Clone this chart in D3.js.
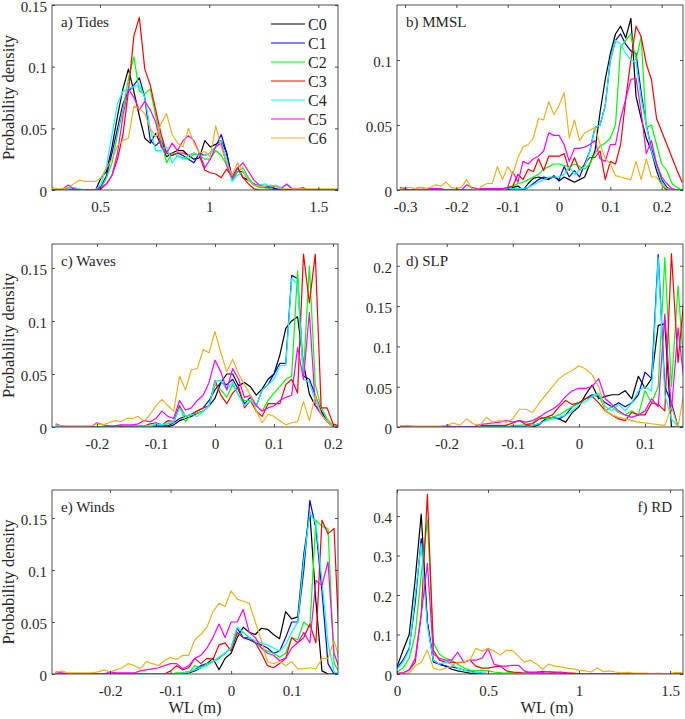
<!DOCTYPE html>
<html><head><meta charset="utf-8">
<script src="https://cdn.jsdelivr.net/npm/d3@7"></script>
<style>
body{margin:0;background:#fff}
svg{display:block}
text{font-family:"Liberation Serif","Times New Roman",serif;fill:#262626}
</style>
</head><body>
<svg id="chart" width="685" height="719"></svg>
<script>
// ---------- DATA ----------
const seriesNames = ['C0','C1','C2','C3','C4','C5','C6'];

// a) Tides
const tidesWL = [0.28,0.305,0.33,0.355,0.38,0.405,0.43,0.455,0.48,0.505,0.53,0.555,0.58,0.605,0.63,0.655,0.68,0.705,0.73,0.755,0.78,0.805,0.83,0.855,0.88,0.905,0.93,0.955,0.98,1.005,1.03,1.055,1.08,1.105,1.13,1.155,1.18,1.205,1.23,1.255,1.28,1.305,1.33,1.355,1.38,1.405,1.43,1.455,1.48,1.505,1.53,1.555,1.58,1.605];
const tidesC0 = [0,0,0,0,0,0,0,0,0,0.01,0.015,0.035,0.06,0.082,0.098,0.08,0.06,0.042,0.038,0.046,0.036,0.027,0.03,0.032,0.032,0.028,0.025,0.026,0.04,0.035,0.037,0.04,0.03,0.01,0.018,0.01,0.008,0.005,0.003,0.003,0.002,0.001,0,0,0,0,0,0,0,0,0,0,0,0];
const tidesC1 = [0,0,0,0,0,0,0,0,0,0.003,0.012,0.03,0.05,0.07,0.08,0.085,0.091,0.075,0.04,0.036,0.04,0.03,0.028,0.03,0.028,0.025,0.022,0.03,0.028,0.03,0.035,0.045,0.03,0.008,0.015,0.015,0.008,0.004,0.003,0.002,0.003,0.001,0,0,0,0,0,0,0,0,0,0,0,0];
const tidesC2 = [0,0,0,0,0,0,0,0,0,0.002,0.01,0.022,0.045,0.065,0.09,0.108,0.08,0.078,0.082,0.06,0.04,0.022,0.03,0.028,0.026,0.025,0.029,0.028,0.025,0.025,0.032,0.028,0.02,0.008,0.015,0.018,0.01,0.004,0.002,0.002,0.001,0,0,0,0,0,0,0,0,0,0,0,0,0];
const tidesC3 = [0,0,0,0.002,0.001,0,0,0,0,0.001,0.005,0.012,0.025,0.045,0.08,0.125,0.14,0.098,0.085,0.065,0.045,0.03,0.028,0.03,0.03,0.028,0.03,0.028,0.016,0.014,0.013,0.01,0.017,0.01,0.018,0.01,0.005,0.001,0,0,0,0,0,0,0,0,0,0,0,0,0,0,0,0];
const tidesC4 = [0,0,0,0.001,0.002,0.001,0,0,0,0.005,0.02,0.045,0.07,0.08,0.082,0.084,0.085,0.075,0.05,0.032,0.032,0.035,0.022,0.028,0.025,0.028,0.03,0.028,0.028,0.03,0.035,0.04,0.025,0.007,0.012,0.015,0.008,0.004,0.004,0.005,0.003,0.004,0.002,0.004,0.001,0,0,0,0,0,0,0,0,0];
const tidesC5 = [0,0,0.001,0.004,0.001,0,0,0,0,0.002,0.005,0.012,0.03,0.06,0.082,0.075,0.065,0.072,0.065,0.055,0.035,0.03,0.038,0.032,0.04,0.044,0.04,0.03,0.018,0.025,0.035,0.038,0.02,0.01,0.018,0.022,0.015,0.008,0.004,0.002,0.002,0.003,0.001,0.005,0.001,0.001,0.002,0,0,0,0,0,0,0];
const tidesC6 = [0.002,0.001,0.001,0.002,0.005,0.008,0.007,0.007,0.007,0.01,0.018,0.025,0.036,0.04,0.042,0.068,0.066,0.062,0.05,0.043,0.054,0.062,0.045,0.038,0.035,0.05,0.038,0.03,0.031,0.027,0.052,0.035,0.022,0.012,0.022,0.015,0.008,0.004,0.003,0.003,0.004,0.003,0.001,0.001,0.001,0.001,0.001,0.001,0.001,0.001,0.001,0.001,0.001,0.001];
const tidesXTicks = [0.5, 1, 1.5];
const tidesYTicks = [0, 0.05, 0.1, 0.15];

// b) MMSL
const mmslWL = [-0.31,-0.3,-0.29,-0.28,-0.27,-0.26,-0.25,-0.24,-0.23,-0.22,-0.21,-0.2,-0.19,-0.18,-0.17,-0.16,-0.15,-0.14,-0.13,-0.12,-0.11,-0.1,-0.09,-0.08,-0.07,-0.06,-0.05,-0.04,-0.03,-0.02,-0.01,0,0.01,0.02,0.03,0.04,0.05,0.06,0.07,0.08,0.09,0.1,0.11,0.12,0.13,0.14,0.15,0.16,0.17,0.18,0.19,0.2,0.21,0.22,0.23,0.24];
const mmslC0 = [0,0,0,0,0,0,0,0,0,0,0,0,0,0,0,0,0,0,0,0,0,0,0.002,0.003,0,0.005,0.009,0.01,0.009,0.008,0.011,0.007,0.01,0.008,0.006,0.008,0.01,0.02,0.03,0.06,0.085,0.105,0.12,0.126,0.117,0.132,0.072,0.055,0.04,0.03,0.015,0.004,0,0,0,0];
const mmslC1 = [0,0,0,0,0,0,0,0,0,0,0,0,0,0,0,0,0,0,0,0,0,0,0,0,0,0.002,0.005,0.008,0.01,0.009,0.01,0.008,0.018,0.01,0.015,0.01,0.02,0.03,0.048,0.05,0.065,0.1,0.115,0.12,0.112,0.107,0.105,0.075,0.05,0.032,0.02,0.008,0.002,0,0,0];
const mmslC2 = [0,0,0,0,0,0,0,0,0,0,0,0,0,0,0,0,0,0,0,0,0,0.001,0.003,0.005,0.006,0.008,0.01,0.012,0.016,0.018,0.02,0.02,0.019,0.018,0.02,0.018,0.016,0.02,0.028,0.034,0.036,0.04,0.05,0.11,0.115,0.12,0.1,0.118,0.048,0.05,0.035,0.02,0.015,0.005,0.002,0];
const mmslC3 = [0,0,0,0,0,0,0,0,0,0,0,0,0,0,0,0,0,0,0,0,0,0.002,0.003,0.012,0.008,0.016,0.014,0.024,0.015,0.026,0.026,0.026,0.028,0.015,0.025,0.015,0.02,0.025,0.025,0.03,0.008,0.022,0.02,0.035,0.07,0.1,0.126,0.118,0.097,0.085,0.055,0.045,0.035,0.025,0.015,0.006];
const mmslC4 = [0,0,0,0,0,0,0,0,0,0,0,0,0,0,0,0,0,0,0,0,0,0.001,0.001,0.001,0.001,0.002,0.004,0.006,0.008,0.01,0.01,0.01,0.012,0.018,0.012,0.015,0.018,0.03,0.048,0.05,0.065,0.1,0.115,0.112,0.105,0.1,0.098,0.07,0.05,0.03,0.018,0.006,0.001,0,0,0];
const mmslC5 = [0.002,0.001,0,0.001,0.002,0.001,0.001,0.001,0.001,0,0,0,0,0.004,0.002,0.001,0.001,0.001,0.001,0.001,0.001,0.002,0.014,0.006,0.022,0.02,0.024,0.026,0.03,0.044,0.042,0.042,0.035,0.022,0.032,0.032,0.033,0.035,0.038,0.024,0.022,0.035,0.035,0.055,0.07,0.085,0.086,0.06,0.028,0.038,0.02,0.01,0.005,0.001,0,0];
const mmslC6 = [0.001,0.002,0.002,0.001,0.002,0.001,0.002,0.004,0.003,0.006,0.002,0.001,0.002,0.008,0.001,0,0.003,0.005,0.005,0.018,0.008,0.018,0.012,0.025,0.033,0.035,0.04,0.055,0.054,0.068,0.058,0.065,0.075,0.04,0.054,0.038,0.044,0.046,0.048,0.035,0.024,0.02,0.011,0.01,0.009,0.008,0.022,0.008,0.024,0.01,0.01,0.004,0.001,0,0,0];
const mmslXTicks = [-0.3, -0.2, -0.1, 0, 0.1, 0.2];
const mmslYTicks = [0, 0.05, 0.1];

// c) Waves
const wavesWL = [-0.27,-0.26,-0.25,-0.24,-0.23,-0.22,-0.21,-0.2,-0.19,-0.18,-0.17,-0.16,-0.15,-0.14,-0.13,-0.12,-0.11,-0.1,-0.09,-0.08,-0.07,-0.06,-0.05,-0.04,-0.03,-0.02,-0.01,0,0.01,0.02,0.03,0.04,0.05,0.06,0.07,0.08,0.09,0.1,0.11,0.12,0.13,0.14,0.15,0.16,0.17,0.18,0.19,0.2,0.21];
const wavesC0 = [0,0,0,0,0,0,0,0,0,0,0,0,0,0,0,0,0,0,0,0,0.002,0.006,0.008,0.01,0.013,0.015,0.02,0.027,0.042,0.05,0.05,0.039,0.042,0.038,0.03,0.036,0.045,0.05,0.068,0.093,0.1,0.104,0.06,0.031,0.02,0.015,0.005,0.001,0];
const wavesC1 = [0,0,0,0,0,0,0,0,0,0,0,0.001,0,0,0,0,0,0.001,0.001,0.001,0.004,0.008,0.01,0.012,0.015,0.018,0.025,0.035,0.042,0.04,0.045,0.035,0.022,0.028,0.02,0.035,0.04,0.05,0.06,0.06,0.143,0.14,0.048,0.045,0.03,0.015,0.005,0.001,0];
const wavesC2 = [0,0,0,0,0,0,0,0,0,0,0,0.001,0,0,0,0,0,0.002,0.002,0.003,0.004,0.02,0.005,0.012,0.013,0.015,0.02,0.04,0.035,0.028,0.04,0.03,0.025,0.025,0.02,0.015,0.025,0.032,0.038,0.045,0.048,0.147,0.05,0.152,0.04,0.018,0.008,0.001,0];
const wavesC3 = [0.002,0.001,0,0,0,0,0,0,0,0,0,0.001,0.001,0.001,0.001,0.001,0.003,0.004,0.002,0.006,0.005,0.02,0.01,0.012,0.015,0.018,0.02,0.044,0.03,0.022,0.032,0.038,0.018,0.025,0.015,0.01,0.022,0.022,0.022,0.04,0.045,0.032,0.163,0.117,0.163,0.018,0.018,0.003,0.001];
const wavesC4 = [0.001,0,0,0,0,0,0,0,0,0,0,0.002,0.001,0.001,0.001,0.001,0.001,0.003,0.002,0.004,0.005,0.018,0.01,0.012,0.01,0.015,0.02,0.043,0.044,0.035,0.042,0.03,0.02,0.025,0.02,0.035,0.04,0.045,0.058,0.058,0.14,0.135,0.045,0.042,0.025,0.012,0.005,0.001,0];
const wavesC5 = [0.003,0.001,0,0,0,0,0,0.004,0.002,0.001,0.001,0.002,0.002,0.002,0.003,0.006,0.005,0.008,0.015,0.01,0.008,0.025,0.016,0.018,0.025,0.03,0.042,0.063,0.052,0.035,0.055,0.045,0.028,0.03,0.02,0.015,0.018,0.02,0.025,0.028,0.03,0.075,0.045,0.108,0.02,0.012,0.005,0.001,0];
const wavesC6 = [0.002,0.001,0.001,0.001,0.001,0.001,0.001,0.003,0.002,0.004,0.006,0.005,0.008,0.008,0.01,0.005,0.012,0.02,0.026,0.02,0.015,0.048,0.035,0.054,0.055,0.073,0.07,0.09,0.07,0.052,0.064,0.05,0.04,0.03,0.015,0.004,0.012,0.01,0.006,0.002,0.004,0.005,0.024,0.006,0.03,0.012,0.005,0.001,0];
const wavesXTicks = [-0.2, -0.1, 0, 0.1, 0.2];
const wavesYTicks = [0, 0.05, 0.1, 0.15];

// d) SLP
const slpWL = [-0.27,-0.26,-0.25,-0.24,-0.23,-0.22,-0.21,-0.2,-0.19,-0.18,-0.17,-0.16,-0.15,-0.14,-0.13,-0.12,-0.11,-0.1,-0.09,-0.08,-0.07,-0.06,-0.05,-0.04,-0.03,-0.02,-0.01,0,0.01,0.02,0.03,0.04,0.05,0.06,0.07,0.08,0.09,0.1,0.11,0.12,0.13,0.14,0.15,0.16];
const slpC0 = [0,0,0,0,0,0,0,0,0,0,0,0,0,0,0,0,0,0,0,0,0,0.003,0.01,0.012,0.01,0.006,0.018,0.025,0.04,0.052,0.035,0.038,0.04,0.04,0.045,0.035,0.063,0.048,0.06,0.126,0.128,0,0,0];
const slpC1 = [0,0,0,0,0,0,0,0,0,0,0,0,0,0,0,0,0,0,0,0.001,0.002,0.004,0.01,0.012,0.01,0.015,0.025,0.03,0.035,0.04,0.038,0.03,0.025,0.03,0.025,0.03,0.04,0.068,0.06,0.214,0.05,0.03,0,0];
const slpC2 = [0,0,0,0,0,0,0,0,0,0,0,0,0,0,0,0,0,0.002,0.002,0.003,0.005,0.013,0.01,0.012,0.015,0.02,0.025,0.03,0.035,0.038,0.04,0.02,0.025,0.018,0.015,0.02,0.015,0.045,0.03,0.05,0.21,0.05,0.175,0.06];
const slpC3 = [0.001,0,0,0,0,0,0,0,0,0,0,0,0.002,0.002,0.002,0.002,0.002,0.005,0.008,0.003,0.004,0.01,0.012,0.015,0.025,0.033,0.028,0.03,0.035,0.038,0.03,0.02,0.015,0.01,0.008,0.018,0.015,0.015,0.03,0.028,0.02,0.215,0.08,0.17];
const slpC4 = [0.001,0,0,0,0,0,0,0,0,0,0,0,0,0,0,0,0,0,0,0,0.002,0.004,0.008,0.01,0.012,0.015,0.02,0.028,0.032,0.038,0.042,0.025,0.02,0.028,0.02,0.03,0.045,0.05,0.045,0.21,0.04,0.01,0,0];
const slpC5 = [0.001,0,0,0,0,0,0,0.002,0,0,0,0,0.003,0.004,0.005,0.006,0.008,0.006,0.008,0.006,0.008,0.012,0.018,0.022,0.028,0.038,0.045,0.048,0.048,0.05,0.06,0.035,0.028,0.02,0.015,0.012,0.015,0.02,0.035,0.025,0.14,0.02,0.123,0.05];
const slpC6 = [0.001,0.002,0.001,0.001,0.001,0.001,0.001,0.002,0.005,0.002,0.01,0.004,0.002,0.012,0.006,0.008,0.006,0.01,0.022,0.022,0.018,0.03,0.04,0.05,0.06,0.066,0.07,0.076,0.072,0.065,0.05,0.02,0.015,0.012,0.01,0.008,0.006,0.005,0.004,0.003,0.002,0.025,0,0.048];
const slpXTicks = [-0.2, -0.1, 0, 0.1];
const slpYTicks = [0, 0.05, 0.1, 0.15, 0.2];

// e) Winds
const windsWL = [-0.29,-0.28,-0.27,-0.26,-0.25,-0.24,-0.23,-0.22,-0.21,-0.2,-0.19,-0.18,-0.17,-0.16,-0.15,-0.14,-0.13,-0.12,-0.11,-0.1,-0.09,-0.08,-0.07,-0.06,-0.05,-0.04,-0.03,-0.02,-0.01,0,0.01,0.02,0.03,0.04,0.05,0.06,0.07,0.08,0.09,0.1,0.11,0.12,0.13,0.14,0.15,0.16,0.17,0.18];
const windsC0 = [0,0,0,0,0,0,0,0,0,0,0,0,0,0,0,0,0,0,0,0,0,0,0.001,0.003,0.006,0.01,0.015,0.004,0.015,0.02,0.035,0.045,0.04,0.038,0.044,0.043,0.038,0.034,0.06,0.053,0.055,0.115,0.155,0.07,0.003,0,0,0];
const windsC1 = [0,0,0,0,0,0,0,0,0,0,0,0,0,0,0,0,0,0,0,0,0,0.001,0.002,0.004,0.008,0.01,0.012,0.015,0.02,0.025,0.044,0.035,0.033,0.03,0.028,0.025,0.02,0.022,0.035,0.05,0.05,0.1,0.167,0.14,0.08,0.01,0,0];
const windsC2 = [0,0,0,0,0,0,0,0,0,0,0,0,0,0,0,0,0,0,0,0,0.001,0.001,0.001,0.008,0.006,0.01,0.012,0.016,0.02,0.025,0.038,0.04,0.035,0.03,0.025,0.022,0.02,0.016,0.02,0.035,0.033,0.05,0.045,0.148,0.142,0.14,0.01,0.001];
const windsC3 = [0.001,0,0,0,0,0,0,0,0,0,0,0,0,0,0,0,0,0,0,0.003,0.008,0.004,0.006,0.015,0.01,0.015,0.014,0.028,0.03,0.022,0.04,0.035,0.035,0.03,0.02,0.008,0.006,0.01,0.015,0.035,0.03,0.035,0.048,0.03,0.148,0.135,0.14,0.01];
const windsC4 = [0,0,0,0,0,0,0,0,0,0,0,0,0,0,0,0,0,0,0,0,0,0.001,0.002,0.004,0.006,0.008,0.012,0.015,0.02,0.025,0.045,0.04,0.035,0.032,0.03,0.028,0.025,0.022,0.028,0.04,0.05,0.11,0.155,0.145,0.09,0.03,0.002,0];
const windsC5 = [0.002,0.001,0,0,0,0,0,0,0,0.002,0.001,0.001,0.001,0.001,0.003,0.004,0.005,0.006,0.008,0.01,0.01,0.005,0.008,0.015,0.018,0.025,0.035,0.048,0.035,0.05,0.05,0.062,0.04,0.035,0.025,0.02,0.018,0.013,0.015,0.025,0.03,0.04,0.03,0.09,0.085,0.108,0.02,0.003];
const windsC6 = [0.001,0.003,0.001,0.001,0.001,0.001,0.001,0.002,0.004,0.002,0.004,0.006,0.01,0.008,0.005,0.012,0.01,0.008,0.013,0.016,0.014,0.018,0.018,0.033,0.038,0.045,0.06,0.068,0.065,0.08,0.072,0.07,0.068,0.05,0.032,0.012,0.01,0.012,0.008,0.012,0.005,0.005,0.006,0.005,0.015,0.015,0.032,0.012];
const windsXTicks = [-0.2, -0.1, 0, 0.1];
const windsYTicks = [0, 0.05, 0.1, 0.15];

// f) RD
const rdWL = [0,0.033,0.067,0.1,0.133,0.167,0.2,0.233,0.267,0.3,0.333,0.367,0.4,0.433,0.467,0.5,0.533,0.567,0.6,0.633,0.667,0.7,0.733,0.767,0.8,0.833,0.867,0.9,0.933,0.967,1,1.033,1.067,1.1,1.133,1.167,1.2,1.233,1.267,1.3,1.333,1.367,1.4,1.433,1.467,1.5,1.533,1.567];
const rdC0 = [0.018,0.06,0.1,0.24,0.405,0.13,0.035,0.025,0.02,0.012,0.008,0.005,0.002,0.001,0,0,0,0,0,0,0,0,0,0,0,0,0,0,0,0,0,0,0,0,0,0,0,0,0,0,0,0,0,0,0,0,0,0];
const rdC1 = [0.015,0.035,0.065,0.18,0.343,0.13,0.03,0.025,0.02,0.018,0.015,0.01,0.008,0.004,0.002,0.001,0.001,0.002,0,0,0,0,0,0,0,0,0,0,0,0,0,0,0,0,0,0,0,0,0,0,0,0,0,0,0,0,0,0];
const rdC2 = [0.005,0.015,0.04,0.1,0.25,0.39,0.08,0.05,0.04,0.035,0.025,0.015,0.01,0.008,0.01,0.008,0.005,0.003,0.002,0.005,0.002,0.001,0.001,0.001,0,0,0,0,0,0,0,0,0,0,0,0,0,0,0,0,0,0,0,0,0,0,0,0];
const rdC3 = [0.001,0.003,0.01,0.03,0.15,0.455,0.06,0.035,0.03,0.03,0.028,0.03,0.035,0.02,0.015,0.015,0.018,0.02,0.008,0.005,0.004,0.003,0.005,0.004,0.007,0.005,0.004,0.005,0.003,0.002,0.001,0,0,0,0,0,0,0,0,0,0,0,0,0,0,0,0,0];
const rdC4 = [0.012,0.03,0.06,0.2,0.33,0.12,0.035,0.025,0.03,0.025,0.015,0.01,0.006,0.004,0.002,0.001,0.001,0.001,0.001,0.001,0.001,0.002,0.001,0,0,0,0,0,0,0,0,0,0,0,0,0,0,0,0,0,0,0,0,0,0,0,0,0];
const rdC5 = [0.001,0.003,0.01,0.04,0.15,0.28,0.05,0.04,0.035,0.035,0.055,0.03,0.035,0.035,0.04,0.065,0.025,0.02,0.02,0.022,0.022,0.008,0.003,0.005,0.004,0.006,0.005,0.003,0.002,0.001,0,0,0,0,0,0,0,0,0,0,0,0,0,0,0,0,0,0];
const rdC6 = [0,0.001,0.003,0.02,0.03,0.06,0.015,0.01,0.015,0.02,0.03,0.03,0.035,0.065,0.058,0.065,0.058,0.048,0.06,0.06,0.045,0.03,0.035,0.025,0.012,0.025,0.02,0.018,0.015,0.013,0.01,0.008,0.005,0.015,0.006,0.008,0.005,0.003,0.004,0.002,0.002,0.002,0.001,0.002,0.001,0.001,0.004,0.003];
const rdXTicks = [0, 0.5, 1, 1.5];
const rdYTicks = [0, 0.1, 0.2, 0.3, 0.4];

// ---------- STYLE / LAYOUT ----------
const seriesColors = ['#000000','#0000ff','#00ff00','#ff0000','#00ffff','#ff00ff','#edb120'];
const axisColor = '#262626';

const panels = [
  {title:'a) Tides', wl:tidesWL, dens:[tidesC0,tidesC1,tidesC2,tidesC3,tidesC4,tidesC5,tidesC6], xDom:[0.28,1.59], yDom:[0,0.15], xt:tidesXTicks, yt:tidesYTicks, box:[52,338,5,190], tAnchor:'start', ylab:true, xlab:null, legend:true},
  {title:'b) MMSL', wl:mmslWL, dens:[mmslC0,mmslC1,mmslC2,mmslC3,mmslC4,mmslC5,mmslC6], xDom:[-0.3156,0.2415], yDom:[0,0.1423], xt:mmslXTicks, yt:mmslYTicks, box:[397,683,5,190], tAnchor:'start', ylab:false, xlab:null},
  {title:'c) Waves', wl:wavesWL, dens:[wavesC0,wavesC1,wavesC2,wavesC3,wavesC4,wavesC5,wavesC6], xDom:[-0.2762,0.2085], yDom:[0,0.1726], xt:wavesXTicks, yt:wavesYTicks, box:[52,338,244,427], tAnchor:'start', ylab:true, xlab:null},
  {title:'d) SLP', wl:slpWL, dens:[slpC0,slpC1,slpC2,slpC3,slpC4,slpC5,slpC6], xDom:[-0.2752,0.1575], yDom:[0,0.227], xt:slpXTicks, yt:slpYTicks, box:[397,683,244,427], tAnchor:'start', ylab:false, xlab:null},
  {title:'e) Winds', wl:windsWL, dens:[windsC0,windsC1,windsC2,windsC3,windsC4,windsC5,windsC6], xDom:[-0.2958,0.1765], yDom:[0,0.177], xt:windsXTicks, yt:windsYTicks, box:[52,338,490,674], tAnchor:'start', ylab:true, xlab:195},
  {title:'f) RD', wl:rdWL, dens:[rdC0,rdC1,rdC2,rdC3,rdC4,rdC5,rdC6], xDom:[0,1.571], yDom:[0,0.466], xt:rdXTicks, yt:rdYTicks, box:[397,683,490,674], tAnchor:'end', ylab:false, xlab:547}
];

const svg = d3.select('#chart');
const fmt = v => String(v);

panels.forEach((p, pi) => {
  const [l, r, t, b] = p.box;
  const x = d3.scaleLinear().domain(p.xDom).range([l, r]);
  const y = d3.scaleLinear().domain(p.yDom).range([b, t]);
  const g = svg.append('g');

  const clipId = 'clip' + pi;
  svg.append('clipPath').attr('id', clipId)
    .append('rect').attr('x', l).attr('y', t).attr('width', r - l).attr('height', b - t);

  // lines
  const lg = g.append('g').attr('clip-path', `url(#${clipId})`);
  const line = d3.line().x(d => x(d[0])).y(d => y(d[1]));
  p.dens.forEach((vals, si) => {
    const pts = p.wl.map((w, i) => [w, vals[i]]).filter(d => d[1] !== undefined);
    lg.append('path').datum(pts)
      .attr('d', line)
      .attr('fill', 'none')
      .attr('stroke', seriesColors[si])
      .attr('stroke-width', 1.2)
      .attr('stroke-linejoin', 'round');
  });

  // axes (inward ticks on all four sides)
  const styleAxis = sel => {
    sel.select('.domain').remove();
    sel.selectAll('line').attr('stroke', axisColor).attr('stroke-width', 0.8);
    sel.selectAll('text').attr('fill', axisColor).style('font-size', '15px')
      .style('font-family', '"Liberation Serif","Times New Roman",serif');
  };
  g.append('g').attr('transform', `translate(0,${b})`)
    .call(d3.axisBottom(x).tickValues(p.xt).tickFormat(fmt).tickSizeInner(-3).tickSizeOuter(0).tickPadding(11))
    .call(styleAxis);
  g.append('g').attr('transform', `translate(0,${t})`)
    .call(d3.axisTop(x).tickValues(p.xt).tickFormat('').tickSizeInner(-3).tickSizeOuter(0))
    .call(styleAxis);
  g.append('g').attr('transform', `translate(${l},0)`)
    .call(d3.axisLeft(y).tickValues(p.yt).tickFormat(fmt).tickSizeInner(-3).tickSizeOuter(0).tickPadding(5))
    .call(styleAxis)
    .call(sel => sel.selectAll('text').attr('dy', '0.42em'));
  g.append('g').attr('transform', `translate(${r},0)`)
    .call(d3.axisRight(y).tickValues(p.yt).tickFormat('').tickSizeInner(-3).tickSizeOuter(0))
    .call(styleAxis);

  // box
  g.append('rect').attr('x', l).attr('y', t).attr('width', r - l).attr('height', b - t)
    .attr('fill', 'none').attr('stroke', axisColor).attr('stroke-width', 0.8);

  // panel title
  g.append('text')
    .attr('x', p.tAnchor === 'start' ? l + 9 : r - 11)
    .attr('y', t + 22)
    .attr('text-anchor', p.tAnchor)
    .style('font-size', '15px')
    .text(p.title);

  if (p.ylab) {
    g.append('text')
      .attr('transform', `translate(14,${(t + b) / 2}) rotate(-90)`)
      .attr('text-anchor', 'middle')
      .style('font-size', '16.5px')
      .text('Probability density');
  }
  if (p.xlab !== null) {
    g.append('text')
      .attr('x', p.xlab).attr('y', 713)
      .attr('text-anchor', 'middle')
      .style('font-size', '16.5px')
      .text('WL (m)');
  }

  if (p.legend) {
    const leg = g.append('g');
    seriesNames.forEach((nm, si) => {
      const yy = 24 + si * 19;
      leg.append('line').attr('x1', 271).attr('x2', 305).attr('y1', yy).attr('y2', yy)
        .attr('stroke', seriesColors[si]).attr('stroke-width', 1.2);
      leg.append('text').attr('x', 308).attr('y', yy).attr('dy', '0.35em')
        .style('font-size', '16px').text(nm);
    });
  }
});
</script>
</body></html>
